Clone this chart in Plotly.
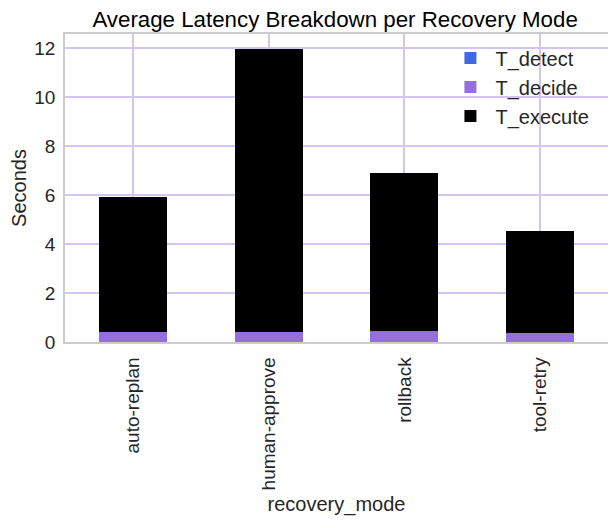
import plotly.graph_objects as go

modes = ["auto-replan", "human-approve", "rollback", "tool-retry"]
t_detect = [0.01, 0.01, 0.01, 0.01]
t_decide = [0.41, 0.41, 0.45, 0.37]
t_execute = [5.50, 11.54, 6.44, 4.15]

colors = {"T_detect": "#4169e1", "T_decide": "#9370db", "T_execute": "#000000"}

fig = go.Figure()
for name, vals in [("T_detect", t_detect), ("T_decide", t_decide), ("T_execute", t_execute)]:
    fig.add_trace(go.Bar(x=modes, y=vals, name=name, marker_color=colors[name],
                         marker_line_width=0, width=0.5))

grid = "#d2c6f0"
# page body has an 8px margin, so the figure is offset by 8px right and down
fig.update_layout(
    barmode="stack",
    width=608, height=520,
    margin=dict(l=57, r=8, t=26, b=186),
    paper_bgcolor="white", plot_bgcolor="white",
    font=dict(family="Liberation Sans, Arial, sans-serif", size=19, color="#262626"),
    title=dict(text="Average Latency Breakdown per Recovery Mode", x=0.538, xanchor="center",
               y=0.979, yanchor="middle", font=dict(size=22.3, color="black")),
    legend=dict(x=0.975, y=0.985, xanchor="right", yanchor="top", bgcolor="rgba(0,0,0,0)",
                font=dict(size=20, color="#262626"), itemwidth=40, traceorder="normal"),
    showlegend=True,
)
fig.update_xaxes(range=[-0.5, 3.5], tickangle=-90, showgrid=True, gridcolor=grid, gridwidth=1.5,
                 title=dict(text="recovery_mode", font=dict(size=20), standoff=8), showline=True,
                 linecolor="#cccccc", linewidth=1.5, mirror=True, ticks="", ticklabelstandoff=6,
                 automargin=False)
fig.update_yaxes(range=[0, 12.57], dtick=2, showgrid=True, gridcolor=grid, gridwidth=1.5,
                 title=dict(text="Seconds", font=dict(size=20), standoff=10), showline=True,
                 linecolor="#cccccc", linewidth=1.5, mirror=True, ticks="", zeroline=False,
                 ticklabelstandoff=4, automargin=False)

fig.write_html("out.html")
